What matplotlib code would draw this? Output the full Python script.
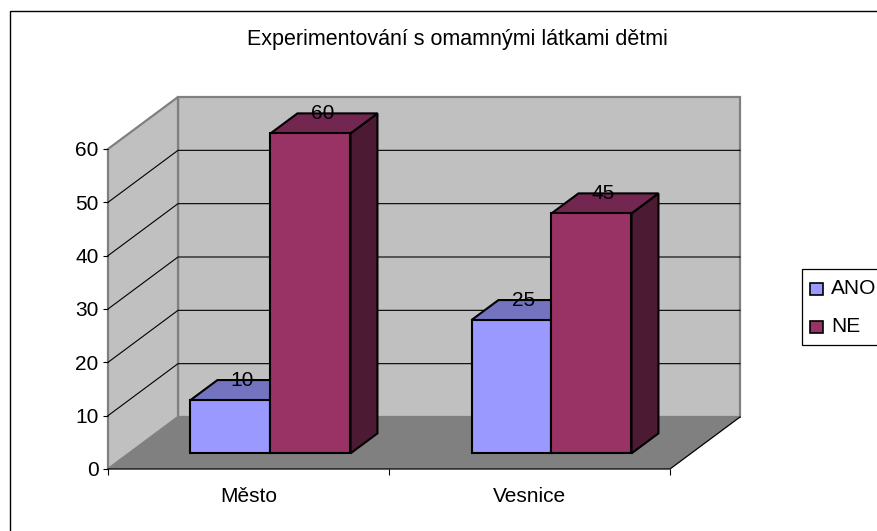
#!/usr/bin/env python3
# Excel-style 3D column chart, faked on a plain 2D axes with a shear for depth
import matplotlib
matplotlib.use("Agg")
import matplotlib.pyplot as plt
from matplotlib.patches import Rectangle

categories = ["Město", "Vesnice"]
series_names = ["ANO", "NE"]
ano_values = [10, 25]
ne_values = [60, 45]
y_ticks = [0, 10, 20, 30, 40, 50, 60]
title = "Experimentování s omamnými látkami dětmi"

W, H = 878, 531
plt.rcParams["font.family"] = ["Liberation Sans", "DejaVu Sans"]

# plot box of the front plane, in pixels
LEFT, RIGHT, TOP, BOTTOM = 108, 670, 149, 469
DEPTH_X = 70 / 281      # wall depth in category units
DEPTH_Y = 52 / (320 / 60)   # wall depth in value units

BAR_W = 80 / 281
BAR_D0 = 0.30           # where the bars start inside the floor
BAR_D1 = 0.685          # where they end
BAR_NUDGE = 1 / 281     # bars sit one pixel right of the category centre
LABEL_D = 0.47          # labels sit a bit off the bar centre

FS = 15
C_WALL = "#C0C0C0"
C_FLOOR = "#808080"
COLORS = {"ANO": ("#9999FF", "#7373BF", "#4D4D80"),
          "NE": ("#993366", "#732650", "#4D1A33")}


def pr(x, y, d=0.0):
    # data point at depth d (0 front, 1 back wall)
    return x + d * DEPTH_X, y + d * DEPTH_Y


def draw_bar(ax, x0, val, cols):
    x1 = x0 + BAR_W
    d0, d1 = BAR_D0, BAR_D1
    kw = dict(edgecolor="black", linewidth=1.5, joinstyle="miter", clip_on=False)
    ax.fill(*zip(pr(x1, 0, d0), pr(x1, 0, d1), pr(x1, val, d1), pr(x1, val, d0)),
            facecolor=cols[2], zorder=4, **kw)
    ax.fill(*zip(pr(x0, val, d0), pr(x1, val, d0), pr(x1, val, d1), pr(x0, val, d1)),
            facecolor=cols[1], zorder=4, **kw)
    ax.fill(*zip(pr(x0, 0, d0), pr(x1, 0, d0), pr(x1, val, d0), pr(x0, val, d0)),
            facecolor=cols[0], zorder=4, **kw)
    lx = pr(x0 + BAR_W / 2, val, LABEL_D)[0]
    ly = pr(x0, val, d1)[1]
    ax.text(lx, ly, str(val), ha="center", va="center",
            fontsize=FS, color="black", zorder=6, clip_on=False)


fig = plt.figure(figsize=(W / 100, H / 100), dpi=100, facecolor="white")
ax = fig.add_axes([LEFT / W, 1 - BOTTOM / H, (RIGHT - LEFT) / W, (BOTTOM - TOP) / H])
ax.set_xlim(0, len(categories))
ax.set_ylim(0, y_ticks[-1])
ax.patch.set_visible(False)
for s in ax.spines.values():
    s.set_visible(False)

# chart border, runs off the right and bottom edges like in the screenshot
fig.add_artist(Rectangle((10 / W, -20 / H), 900 / W, (H - 11 + 20) / H, transform=fig.transFigure,
                         facecolor="white", edgecolor="black", linewidth=1.0, zorder=-5))

xmax = len(categories)
ymax = y_ticks[-1]
wall_kw = dict(edgecolor=C_FLOOR, linewidth=1.6, joinstyle="miter", clip_on=False)
ax.fill(*zip(pr(0, 0, 1), pr(xmax, 0, 1), pr(xmax, ymax, 1), pr(0, ymax, 1)),
        facecolor=C_WALL, zorder=1, **wall_kw)
ax.fill(*zip(pr(0, 0, 0), pr(0, 0, 1), pr(0, ymax, 1), pr(0, ymax, 0)),
        facecolor=C_WALL, zorder=1, **wall_kw)
ax.fill(*zip(pr(0, 0, 0), pr(xmax, 0, 0), pr(xmax, 0, 1), pr(0, 0, 1)),
        facecolor=C_FLOOR, zorder=2, edgecolor="none", clip_on=False)

# gridlines run along the side wall and then the back wall
for v in y_ticks[1:-1]:
    pts = [pr(0, v, 0), pr(0, v, 1), pr(xmax, v, 1)]
    ax.plot(*zip(*pts), color="black", lw=0.8, zorder=3, clip_on=False)

# front and right floor edges
pts = [pr(0, 0, 0), pr(xmax, 0, 0), pr(xmax, 0, 1)]
ax.plot(*zip(*pts), color="black", lw=0.9, zorder=3, clip_on=False)

for i in range(len(categories)):
    center = i + 0.5 + BAR_NUDGE
    draw_bar(ax, center - BAR_W, ano_values[i], COLORS["ANO"])
    draw_bar(ax, center, ne_values[i], COLORS["NE"])

ax.set_yticks(y_ticks)
ax.set_yticklabels([str(v) for v in y_ticks], fontsize=FS)
ax.set_xticks(range(len(categories) + 1))
ax.set_xticklabels([])
ax.set_xticks([i + 0.5 for i in range(len(categories))], minor=True)
ax.set_xticklabels(categories, minor=True, fontsize=FS)
ax.tick_params(axis="y", length=3.8, width=0.8, pad=3.0)
ax.tick_params(axis="x", which="major", length=4.5, width=0.8)
ax.tick_params(axis="x", which="minor", length=0, pad=13)

fig.text(457 / W, 1 - 39 / H, title, ha="center", va="center", fontsize=15.5)

# legend box
fig.add_artist(Rectangle((802 / W, 1 - 345 / H), 90 / W, 76 / H, transform=fig.transFigure,
                         facecolor="white", edgecolor="black", linewidth=0.9))
for name, yc in zip(series_names, [289, 327]):
    fig.add_artist(Rectangle((810 / W, 1 - (yc + 6) / H), 13 / W, 12 / H, transform=fig.transFigure,
                             facecolor=COLORS[name][0], edgecolor="black", linewidth=1.2))
    fig.text(831 / W, 1 - (yc - 0.5) / H, name, ha="left", va="center", fontsize=FS)

fig.savefig("out.png", dpi=100)
